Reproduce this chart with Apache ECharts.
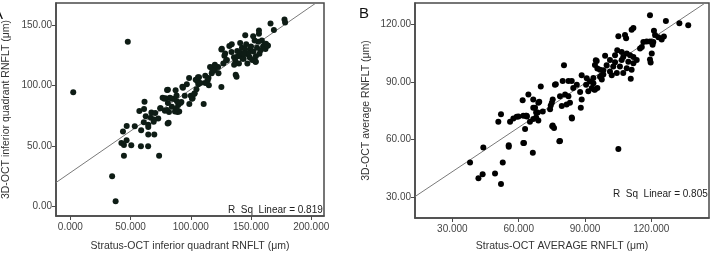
<!DOCTYPE html>
<html>
<head>
<meta charset="utf-8">
<script src="https://cdn.jsdelivr.net/npm/echarts@6/dist/echarts.min.js"></script>
<style>
  html, body { margin: 0; padding: 0; background: #fff; }
  #chart { width: 713px; height: 257px; }
</style>
</head>
<body>
<div id="chart"></div>
<script>
// panel A: Stratus-OCT inferior quadrant vs 3D-OCT inferior quadrant RNFLT
const pointsA = [
  [2.4, 94.2], [47.7, 135.9], [34.7, 25], [37.6, 4.2], [44.5, 41.8], [73.7, 41.8], [80.8, 68.4],
  [42.4, 52.4], [44.5, 50.8], [46.7, 54.7], [50.6, 50.6], [58.6, 49.7], [64.6, 49.7],
  [43.7, 61.8], [46.8, 66.5], [53.5, 66.3], [58.8, 63], [61, 69.5], [64.7, 59.4], [69.7, 59.4],
  [64.7, 67.5], [64.7, 65.7], [66.8, 73.2], [69.5, 71.8], [73, 72.6], [69.2, 70], [62.6, 74.4],
  [57.3, 78.9], [61.2, 80.5], [61.6, 86.5], [67.3, 77.6], [70.5, 77.1], [74.6, 81], [78.5, 79],
  [76.6, 89.7], [79, 89.4], [81, 85.5], [82.7, 89.7], [81.9, 78], [89, 77.9], [84.3, 82.3],
  [89.6, 83.7], [90.4, 78.4], [92.2, 86.3], [88.5, 86.8], [86.1, 89], [81, 96.3], [87.4, 96],
  [93.5, 98], [95, 91.5], [100, 91.5], [103.3, 93.4], [98.8, 84.5], [96.7, 100.8], [98.6, 106],
  [106, 106.6], [105.5, 103.4], [110.7, 84.5], [115, 100], [117.4, 114.7], [101.5, 89.4],
  [80.3, 96.1], [93, 98.9], [78.1, 88.9], [84.3, 88.9], [88.2, 91.6], [91.4, 85.5],
  [101, 88.9], [102.8, 92.8], [104.7, 96.8], [106.3, 100.8], [104.1, 104.7], [106.8, 106.6],
  [112.1, 102], [114.7, 106], [117.4, 110], [120, 112.7], [122.7, 115.2], [116, 115.2], [125.4, 98.7],
  [125.4, 129.7], [127.9, 124.5], [129.3, 120.6], [132, 132.4], [133.8, 127.6], [135.9, 123.1],
  [138.6, 128.4], [140.7, 124.5], [142.5, 131], [143.9, 121.9], [146.5, 125.8], [149.2, 129.7],
  [137.3, 108.7], [75, 81], [80.3, 79.7], [86.9, 78.4], [88.2, 81], [81.6, 69.2],
  [137, 120], [139, 124], [141, 127], [143, 122], [145, 130], [147, 118], [148, 126], [150, 132],
  [151, 121], [152, 128], [154, 124], [155, 131], [156, 136], [157, 126], [158, 129], [160, 132],
  [159, 137], [161, 133], [162, 130], [164, 133], [153, 137], [146, 134], [144, 126], [140, 118],
  [136, 117], [149, 123],
  [177.8, 154.4], [178.3, 151.9], [166.2, 151], [169, 145.8], [156.6, 145.2], [156.6, 142.6],
  [151.8, 140.5], [145.2, 141.3], [162.4, 134.4], [163.8, 132.6], [154, 119.4], [138, 107],
  [134, 134], [141, 134.9], [125.8, 130.2], [128.5, 126.3], [153.7, 119.5],
  [112, 108], [118, 112], [120, 117], [123, 110], [127, 118], [130, 121], [114, 104], [108, 102]
];
const fitA = { intercept: 27.9, slope: 0.687, r2: '0.819' };
const xTicksA = [0, 50, 100, 150, 200];
const yTicksA = [0, 50, 100, 150];

// panel B: Stratus-OCT average vs 3D-OCT average RNFLT
const pointsB = [
  [38, 48.1], [41.8, 40], [43.7, 42], [44, 55.9], [49.3, 42.4], [52.8, 48.1], [52, 37],
  [55.5, 57.1], [55.5, 56.3], [62.4, 58.3], [66.4, 53.2], [78.4, 59.2], [75.2, 67], [76, 66.1],
  [84.1, 71], [105.1, 55.1], [52, 73.2], [50.8, 69.3], [57.6, 71], [56.1, 69.3], [59.9, 72],
  [63.7, 72], [65.1, 69.3], [67.9, 74.1], [67.9, 71.5], [68.9, 69.9], [66.6, 76.6], [61.8, 80.5],
  [64.4, 83.4], [68.9, 79.2], [80.5, 98.6], [70, 87.6], [76.4, 88.5], [66.6, 80.8], [69.3, 79.7],
  [67.4, 76.6], [70.9, 74.6], [74.2, 75.8], [75, 79.2], [75.4, 80.8], [78.7, 82.6], [81, 83.4],
  [82.5, 82.6], [81.7, 78.3], [83.2, 79.2], [79.5, 77.5], [79.9, 90.5], [82.5, 90.5], [84, 90.5],
  [84.7, 86.8], [86.3, 88.5], [87.8, 84.8], [88.5, 80.8], [88.1, 76.6], [84, 71.5],
  [88.5, 93.5], [90.8, 91.9], [92.3, 90.2], [90.5, 88.5], [93.1, 86.8], [91.5, 85.1], [94.5, 85.9],
  [93.8, 89.3], [94.9, 101.2], [95.6, 97], [96.8, 92.7], [98.3, 96.1], [99.8, 98.6], [97.6, 93.5],
  [59.1, 71.9], [62.1, 72.4], [63.6, 72.4], [66.6, 70.7], [62.9, 65.6], [75.4, 67.3],
  [78.7, 59.3], [62.1, 58.3], [63.2, 72.4], [68.6, 74.1], [74.5, 77.8], [76.8, 88.8],
  [119.4, 124.6], [126.6, 121.7], [132.7, 120.5], [136.7, 119.5], [111.9, 118], [111.1, 117.1],
  [121.2, 116.6], [121.7, 114.4], [123.2, 113.2], [125.7, 113.6], [124.7, 112], [105.1, 113.7],
  [108.1, 114.4], [108.6, 112.7], [116.4, 110.7], [117.9, 111], [119.4, 111], [120.9, 110.7],
  [120.6, 109.3], [115.7, 108.1], [114.9, 107.3], [120.2, 104.7], [119.4, 101.7], [119.7, 100.1],
  [104.6, 106.5], [106.6, 105.6], [108.9, 104.7], [110.4, 103.9], [111.9, 103], [107.3, 103],
  [103.6, 103.9], [99.1, 103.6], [101.3, 101.4], [103.6, 100.2], [106.6, 101.4], [109.6, 100.5],
  [111.9, 99.7], [113.4, 101.4], [102.8, 98], [105.8, 98], [108.9, 97.1], [111.1, 96.3],
  [101.3, 95.4], [104.4, 94.6], [107.3, 94.6], [98.3, 93.8], [102.1, 93.4], [95.3, 100.9],
  [94.5, 98.8], [96.8, 96.3], [93.8, 92], [97.6, 91.2], [110.7, 91.7], [95.6, 86.9], [94.1, 86.1]
];
const fitB = { intercept: 20.4, slope: 0.766, r2: '0.805' };
const xTicksB = [30, 60, 90, 120];
const yTicksB = [30, 60, 90, 120];

const FONT = '"Liberation Sans", Arial, sans-serif';
const boxColor = '#4a4a4a';

function xAxisOf(idx, min, max, ticks, name, gap) {
  return {
    gridIndex: idx, type: 'value', min, max,
    name, nameLocation: 'middle', nameGap: gap,
    nameTextStyle: { fontFamily: FONT, fontSize: 10.5, color: '#333' },
    axisLine: { show: true, onZero: false, lineStyle: { color: boxColor, width: 1.5 } },
    axisTick: { show: true, customValues: ticks, length: 4, lineStyle: { color: boxColor } },
    axisLabel: {
      customValues: ticks, margin: 6, fontFamily: FONT, fontSize: 10, color: '#444',
      formatter: v => v.toFixed(3)
    },
    splitLine: { show: false }
  };
}

function yAxisOf(idx, min, max, ticks, name, gap) {
  return {
    gridIndex: idx, type: 'value', min, max,
    name, nameLocation: 'middle', nameGap: gap,
    nameTextStyle: { fontFamily: FONT, fontSize: 10.5, color: '#333' },
    axisLine: { show: true, onZero: false, lineStyle: { color: boxColor, width: 1.5 } },
    axisTick: { show: true, customValues: ticks, length: 4, lineStyle: { color: boxColor } },
    axisLabel: {
      customValues: ticks, margin: 4, fontFamily: FONT, fontSize: 10, color: '#444',
      formatter: v => v.toFixed(2)
    },
    splitLine: { show: false }
  };
}

function fitLine(fit, xmin, xmax) {
  return [[xmin, fit.intercept + fit.slope * xmin], [xmax, fit.intercept + fit.slope * xmax]];
}

const axA = { xmin: -11.9, xmax: 210.6, ymin: -7.9, ymax: 168 };
const axB = { xmin: 13.1, xmax: 146.1, ymin: 19.3, ymax: 131 };

const chart = echarts.init(document.getElementById('chart'), null, { renderer: 'canvas' });
chart.setOption({
  animation: false,
  backgroundColor: '#fff',
  grid: [
    { left: 44, right: 389, top: 3, bottom: 31, show: true, borderColor: boxColor, borderWidth: 1.5 },
    { left: 415, right: 4, top: 3, bottom: 34, show: true, borderColor: boxColor, borderWidth: 1.5 }
  ],
  xAxis: [
    xAxisOf(0, axA.xmin, axA.xmax, xTicksA, 'Stratus-OCT inferior quadrant RNFLT (μm)', 25),
    xAxisOf(1, axB.xmin, axB.xmax, xTicksB, 'Stratus-OCT AVERAGE RNFLT (μm)', 23)
  ],
  yAxis: [
    yAxisOf(0, axA.ymin, axA.ymax, yTicksA, '3D-OCT inferior quadrant RNFLT (μm)', 44),
    yAxisOf(1, axB.ymin, axB.ymax, yTicksB, '3D-OCT average RNFLT (μm)', 43)
  ],
  graphic: [
    { type: 'text', left: -7, top: 7, style: { text: 'A', font: '15px ' + FONT, fill: '#111' } },
    { type: 'text', left: 359, top: 6, style: { text: 'B', font: '15px ' + FONT, fill: '#111' } },
    { type: 'text', left: 228, top: 205, style: { text: 'R  Sq  Linear = ' + fitA.r2, font: '10px ' + FONT, fill: '#222' } },
    { type: 'text', left: 613, top: 189, style: { text: 'R  Sq  Linear = ' + fitB.r2, font: '10px ' + FONT, fill: '#222' } }
  ],
  series: [
    {
      type: 'line', xAxisIndex: 0, yAxisIndex: 0, data: fitLine(fitA, axA.xmin, axA.xmax),
      symbol: 'none', clip: true, lineStyle: { color: '#7a7a7a', width: 1 }, z: 1
    },
    {
      type: 'scatter', xAxisIndex: 0, yAxisIndex: 0, data: pointsA,
      symbolSize: 6, itemStyle: { color: '#0e1c15', opacity: 1 }, z: 2
    },
    {
      type: 'line', xAxisIndex: 1, yAxisIndex: 1, data: fitLine(fitB, axB.xmin, axB.xmax),
      symbol: 'none', clip: true, lineStyle: { color: '#7a7a7a', width: 1 }, z: 1
    },
    {
      type: 'scatter', xAxisIndex: 1, yAxisIndex: 1, data: pointsB,
      symbolSize: 6, itemStyle: { color: '#000', opacity: 1 }, z: 2
    }
  ]
});
</script>
</body>
</html>
